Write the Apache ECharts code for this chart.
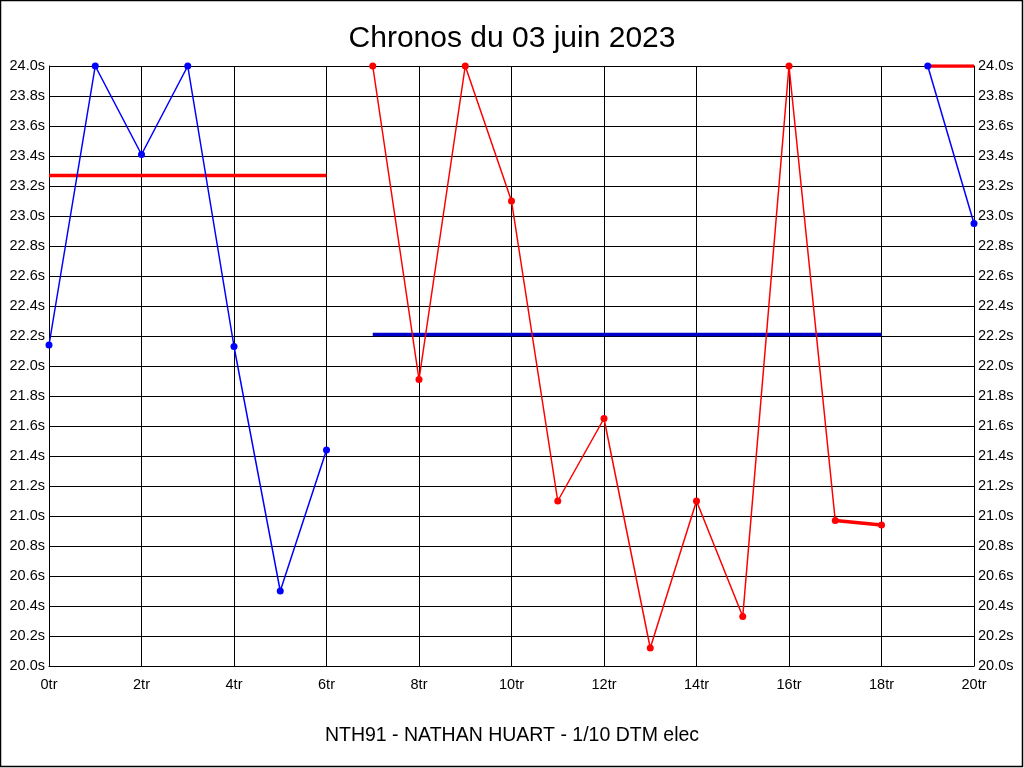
<!DOCTYPE html>
<html>
<head>
<meta charset="utf-8">
<script src="https://cdn.jsdelivr.net/npm/echarts@6/dist/echarts.min.js"></script>
<style>
html,body{margin:0;padding:0;background:#fff;}
#chart{width:1024px;height:768px;}
</style>
</head>
<body>
<div id="chart"></div>
<script>
// Data
var titleText = 'Chronos du 03 juin 2023';
var subtitleText = 'NTH91 - NATHAN HUART - 1/10 DTM elec';

var laps1 = [0, 1, 2, 3, 4, 5, 6];
var times1 = [22.14, 24.0, 23.41, 24.0, 22.13, 20.50, 21.44];

var laps2 = [7, 8, 9, 10, 11, 12, 13, 14, 15, 16, 17, 18];
var times2 = [24.0, 21.91, 24.0, 23.10, 21.10, 21.65, 20.12, 21.10, 20.33, 24.0, 20.97, 20.94];

var laps3 = [19, 20];
var times3 = [24.0, 22.95];

var ref1Laps = [0, 6];
var ref1Value = 23.27;
var ref2Laps = [7, 18];
var ref2Value = 22.21;
var ref3Laps = [19, 20];
var ref3Value = 24.0;

var xMin = 0, xMax = 20, xStep = 2;
var yMin = 20.0, yMax = 24.0, yStep = 0.2;

function pairs(xs, ys) { return xs.map(function (x, i) { return [x, ys[i]]; }); }
function flat(xs, v) { return xs.map(function (x) { return [x, v]; }); }

var chart = echarts.init(document.getElementById('chart'), null, { renderer: 'canvas' });
var font = 'Liberation Sans, Arial, sans-serif';
var axisLabelStyle = { color: '#000', fontSize: 14.5, fontFamily: font };

function lineSeries(data, color, width, showSym, yIndex) {
  return {
    type: 'line', data: data, yAxisIndex: yIndex || 0,
    symbol: showSym ? 'circle' : 'none', symbolSize: 7, showSymbol: showSym,
    lineStyle: { color: color, width: width },
    itemStyle: { color: color },
    animation: false, silent: true, z: width > 2 ? 3 : 4
  };
}

var option = {
  backgroundColor: '#fff',
  animation: false,
  title: [
    { text: titleText, left: 'center', top: 19, textStyle: { fontSize: 30, fontWeight: 'normal', color: '#000', fontFamily: font } },
    { text: subtitleText, left: 'center', top: 721, textStyle: { fontSize: 19.5, fontWeight: 'normal', color: '#000', fontFamily: font } }
  ],
  grid: { left: 49, right: 50, top: 66, bottom: 102, containLabel: false },
  xAxis: {
    type: 'value', min: xMin, max: xMax, interval: xStep,
    axisLine: { show: true, lineStyle: { color: '#000', width: 1 } },
    axisTick: { show: false },
    axisLabel: Object.assign({ margin: 11, formatter: function (v) { return v + 'tr'; } }, axisLabelStyle),
    splitLine: { show: true, lineStyle: { color: '#000', width: 1 } }
  },
  yAxis: [
    {
      type: 'value', min: yMin, max: yMax, interval: yStep, position: 'left',
      axisLine: { show: true, lineStyle: { color: '#000', width: 1 } },
      axisTick: { show: false },
      axisLabel: Object.assign({ margin: 4, formatter: function (v) { return v.toFixed(1) + 's'; } }, axisLabelStyle),
      splitLine: { show: true, lineStyle: { color: '#000', width: 1 } }
    },
    {
      type: 'value', min: yMin, max: yMax, interval: yStep, position: 'right',
      axisLine: { show: true, lineStyle: { color: '#000', width: 1 } },
      axisTick: { show: false },
      axisLabel: Object.assign({ margin: 4, formatter: function (v) { return v.toFixed(1) + 's'; } }, axisLabelStyle),
      splitLine: { show: false }
    }
  ],
  graphic: [
    { type: 'rect', shape: { x: 0.5, y: 0.5, width: 1022, height: 766 }, style: { fill: 'none', stroke: '#000', lineWidth: 1.5 }, silent: true, z: 100 }
  ],
  series: [
    lineSeries(flat(ref1Laps, ref1Value), '#ff0000', 3.5, false),
    lineSeries(flat(ref2Laps, ref2Value), '#0000cc', 3.5, false),
    lineSeries(flat(ref3Laps, ref3Value), '#ff0000', 3.5, false),
    lineSeries(pairs(laps1, times1), '#0000ff', 1.5, true),
    lineSeries(pairs(laps2, times2), '#ff0000', 1.5, true),
    lineSeries(pairs(laps2.slice(-2), times2.slice(-2)), '#ff0000', 3.5, false),
    lineSeries(pairs(laps3, times3), '#0000ff', 1.5, true)
  ]
};
chart.setOption(option);
</script>
</body>
</html>
